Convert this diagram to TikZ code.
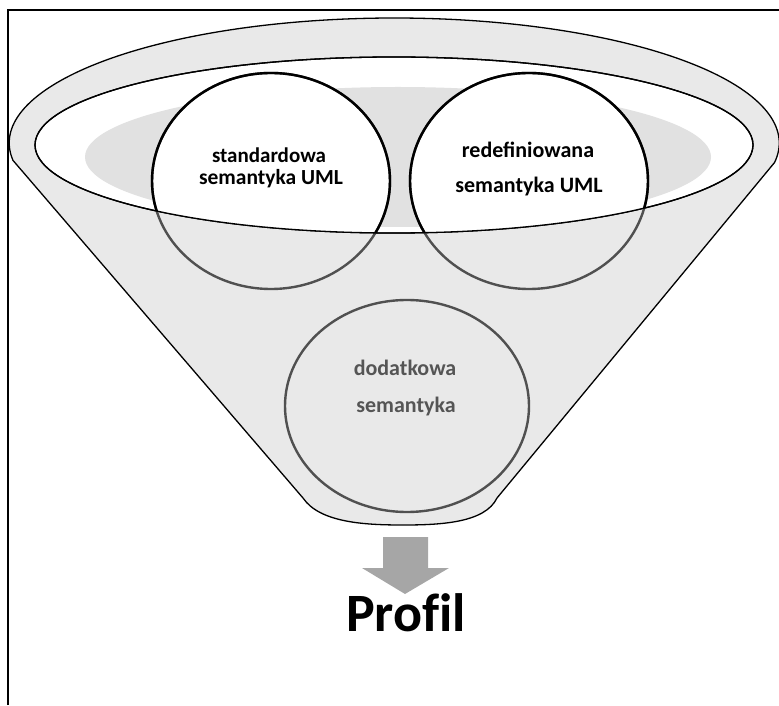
\documentclass[tikz,border=0pt]{standalone}
\usepackage{fontspec}
\setmainfont{Carlito}
\definecolor{funnelgray}{HTML}{E9E9E9}
\definecolor{innergray}{HTML}{E1E1E1}
\definecolor{ringgray}{HTML}{505050}
\definecolor{textgray}{HTML}{555555}
\definecolor{arrowgray}{HTML}{A6A6A6}
\tikzset{
  outline/.style={draw=black, line width=1.3pt},
  ringbox/.style={line width=2.4pt},
  lbl/.style={anchor=base, font=\bfseries\fontsize{22}{26}\selectfont},
}
\begin{document}
\begin{tikzpicture}[x=1pt,y=1pt]
\useasboundingbox (0,0) rectangle (779,705);
% frame (top and left edges visible)
\draw[line width=2pt] (8,0) -- (8,695) -- (779,695);
% funnel body + outer rim
\coordinate (fl) at (13,544.6);
\coordinate (fr) at (774.2,542.5);
\coordinate (bl) at (303,207);
\coordinate (br) at (497,207);
\coordinate (bm) at (403,180);
\path[fill=funnelgray, outline] (fl) arc[start angle=188, end angle=-9, x radius=385pt, y radius=125pt]
  -- (br) .. controls (485,182) and (440,180) .. (bm) .. controls (366,180) and (320,182) .. (bl) -- cycle;
% inner rim
\path[fill=white, outline] (394,560) ellipse[x radius=359pt, y radius=88pt];
\path[fill=innergray] (398,548) ellipse[x radius=313pt, y radius=70pt];
% upper circles: white inside the rim
\begin{scope}
  \clip (394,560) ellipse[x radius=359pt, y radius=88pt];
  \fill[white] (271,524) ellipse[x radius=119pt, y radius=108pt];
  \fill[white] (529,524) ellipse[x radius=119pt, y radius=108pt];
\end{scope}
\draw[ringbox, draw=ringgray] (271,524) ellipse[x radius=119pt, y radius=108pt];
\draw[ringbox, draw=ringgray] (529,524) ellipse[x radius=119pt, y radius=108pt];
\begin{scope}
  \clip (394,560) ellipse[x radius=359pt, y radius=88pt];
  \draw[ringbox, draw=black] (271,524) ellipse[x radius=119pt, y radius=108pt];
  \draw[ringbox, draw=black] (529,524) ellipse[x radius=119pt, y radius=108pt];
\end{scope}
\draw[outline] (394,560) ellipse[x radius=359pt, y radius=88pt];
% lower circle
\draw[ringbox, draw=ringgray, fill=funnelgray] (407,299) ellipse[x radius=122pt, y radius=106pt];
% labels
\node[lbl, font=\bfseries\fontsize{21}{26}\selectfont] (std1) at (269,542) {standardowa};
\node[lbl, font=\bfseries\fontsize{21.5}{26}\selectfont] (std2) at (271,520) {semantyka UML};
\node[lbl] (red1) at (528,547) {redefiniowana};
\node[lbl] (red2) at (529,512) {semantyka UML};
\node[lbl, text=textgray] (dod1) at (405,329) {dodatkowa};
\node[lbl, text=textgray] (dod2) at (406,293) {semantyka};
% arrow
\fill[arrowgray] (383,168) -- (428,168) -- (428,137) -- (449,137) -- (405,111) -- (362,137) -- (383,137) -- cycle;
\node[anchor=base, font=\bfseries\fontsize{54}{60}\selectfont\addfontfeatures{Ligatures=CommonOff}] (prof) at (406,74) {Profil};
\end{tikzpicture}
\end{document}
